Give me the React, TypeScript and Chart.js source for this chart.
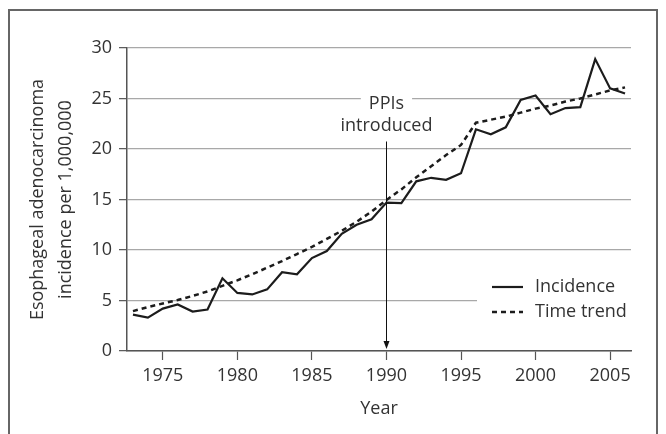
import { useEffect, useRef } from "react";
import { Chart, registerables } from "chart.js";

Chart.register(...registerables);

const YEARS = [1973, 1974, 1975, 1976, 1977, 1978, 1979, 1980, 1981, 1982, 1983, 1984, 1985, 1986, 1987, 1988, 1989, 1990, 1991, 1992, 1993, 1994, 1995, 1996, 1997, 1998, 1999, 2000, 2001, 2002, 2003, 2004, 2005, 2006];
const INCIDENCE = [3.6, 3.3, 4.2, 4.6, 3.9, 4.1, 7.2, 5.75, 5.6, 6.1, 7.8, 7.6, 9.2, 9.9, 11.6, 12.5, 13.05, 14.7, 14.65, 16.8, 17.15, 16.95, 17.6, 21.95, 21.45, 22.15, 24.85, 25.3, 23.45, 24.05, 24.15, 28.9, 26.0, 25.5];
const TIME_TREND = [3.95, 4.35, 4.7, 5.05, 5.45, 5.9, 6.45, 7.0, 7.6, 8.25, 8.9, 9.6, 10.3, 11.1, 11.9, 12.8, 13.8, 14.95, 16.0, 17.2, 18.3, 19.4, 20.4, 22.6, 22.9, 23.2, 23.6, 24.0, 24.3, 24.7, 25.0, 25.4, 25.8, 26.1];
const X_TICKS = [1975, 1980, 1985, 1990, 1995, 2000, 2005];
const Y_TICKS = [0, 5, 10, 15, 20, 25, 30];
const SERIES_LABELS = ["Incidence", "Time trend"];
const X_TITLE = "Year";
const Y_TITLE = ["Esophageal adenocarcinoma", "incidence per 1,000,000"];
const ANNOTATION_YEAR = 1990;
const ANNOTATION_LEVEL = 25;
const ANNOTATION_LINES = ["PPIs", "introduced"];

const FAMILY = "'Open Sans', 'Noto Sans', sans-serif";
const TEXT = "#333333";
const LINE = "#1c1c1c";

const framePlugin = {
  id: "frame",
  beforeDraw(chart: any) {
    const ctx = chart.ctx;
    ctx.save();
    ctx.fillStyle = "#ffffff";
    ctx.fillRect(0, 0, chart.width, chart.height);
    ctx.strokeStyle = "#666666";
    ctx.lineWidth = 2;
    ctx.strokeRect(9, 10, 648, 600);
    ctx.restore();
  },
};

const overlayPlugin = {
  id: "overlay",
  afterDraw(chart: any) {
    const { ctx, chartArea, scales } = chart;
    const x = scales.x.getPixelForValue(ANNOTATION_YEAR);
    const yRef = scales.y.getPixelForValue(ANNOTATION_LEVEL);
    ctx.save();
    ctx.font = `18px ${FAMILY}`;
    // annotation text
    const w = ctx.measureText(ANNOTATION_LINES[0]).width + 16;
    ctx.fillStyle = "#ffffff";
    ctx.fillRect(x - w / 2, yRef - 3, w, 6);
    ctx.fillStyle = TEXT;
    ctx.textAlign = "center";
    ctx.textBaseline = "middle";
    ctx.fillText(ANNOTATION_LINES[0], x, yRef + 5);
    ctx.fillText(ANNOTATION_LINES[1], x, yRef + 27);
    // arrow
    const ax = Math.round(x) + 0.5;
    const top = yRef + 43;
    const tip = chartArea.bottom - 2;
    ctx.strokeStyle = "#111111";
    ctx.lineWidth = 1;
    ctx.beginPath();
    ctx.moveTo(ax, top);
    ctx.lineTo(ax, tip - 4);
    ctx.stroke();
    ctx.fillStyle = "#111111";
    ctx.beginPath();
    ctx.moveTo(ax - 3, tip - 8);
    ctx.lineTo(ax + 3, tip - 8);
    ctx.lineTo(ax, tip);
    ctx.closePath();
    ctx.fill();

    // legend
    const right = chartArea.right;
    const bottom = chartArea.bottom;
    ctx.fillStyle = "#ffffff";
    ctx.fillRect(right - 154, bottom - 78, 154, 55);
    const rows = [bottom - 64, bottom - 39];
    chart.data.datasets.forEach((ds: any, i: number) => {
      const yy = rows[i];
      ctx.strokeStyle = ds.borderColor;
      ctx.lineWidth = ds.borderWidth;
      ctx.setLineDash(ds.borderDash || []);
      ctx.beginPath();
      ctx.moveTo(right - 139, yy);
      ctx.lineTo(right - 108, yy);
      ctx.stroke();
      ctx.setLineDash([]);
      ctx.fillStyle = TEXT;
      ctx.textAlign = "left";
      ctx.textBaseline = "middle";
      ctx.fillText(ds.label, right - 96, yy);
    });
    ctx.restore();
  },
};

export default function App() {
  const ref = useRef<HTMLCanvasElement | null>(null);

  useEffect(() => {
    if (!ref.current) return;
    const chart = new Chart(ref.current, {
      type: "line",
      data: {
        datasets: [
          {
            label: SERIES_LABELS[0],
            data: YEARS.map((yr, i) => ({ x: yr, y: INCIDENCE[i] })),
            borderColor: LINE,
            borderWidth: 2.2,
            pointRadius: 0,
            tension: 0,
            fill: false,
          },
          {
            label: SERIES_LABELS[1],
            data: YEARS.map((yr, i) => ({ x: yr, y: TIME_TREND[i] })),
            borderColor: LINE,
            borderWidth: 2.5,
            borderDash: [5, 4],
            pointRadius: 0,
            tension: 0,
            fill: false,
          },
        ],
      },
      options: {
        animation: false,
        responsive: false,
        devicePixelRatio: 1,
        layout: { padding: { left: 0, top: 48, right: 35, bottom: 0 } },
        plugins: { legend: { display: false }, tooltip: { enabled: false } },
        scales: {
          x: {
            type: "linear",
            min: 1972.6,
            max: 2006.4,
            afterBuildTicks: (s: any) => {
              s.ticks = X_TICKS.map((v) => ({ value: v }));
            },
            afterFit: (s: any) => {
              s.height = 83;
            },
            grid: { drawOnChartArea: false, drawTicks: true, tickLength: 9, tickColor: "#555555", tickWidth: 1.2 },
            border: { color: "#555555", width: 1.5 },
            ticks: {
              callback: (v: any) => String(v),
              color: TEXT,
              font: { family: FAMILY, size: 18, lineHeight: 1.2 },
              padding: 5,
              maxRotation: 0,
              autoSkip: false,
            },
            title: {
              display: true,
              text: X_TITLE,
              color: TEXT,
              font: { family: FAMILY, size: 18, lineHeight: 1.2 },
              padding: { top: 0, bottom: 14 },
            },
          },
          y: {
            type: "linear",
            min: 0,
            max: 30,
            afterBuildTicks: (s: any) => {
              s.ticks = Y_TICKS.map((v) => ({ value: v }));
            },
            afterFit: (s: any) => {
              s.width = 127;
            },
            grid: { color: "#a8a8a8", lineWidth: 1.3, drawTicks: true, tickLength: 8, tickColor: "#555555", tickWidth: 1.2 },
            border: { color: "#555555", width: 1.5 },
            ticks: {
              color: TEXT,
              font: { family: FAMILY, size: 18, lineHeight: 1.2 },
              padding: 7,
            },
            title: {
              display: true,
              text: Y_TITLE,
              color: TEXT,
              font: { family: FAMILY, size: 18, lineHeight: 1.55 },
              padding: { top: 24, bottom: 0 },
            },
          },
        },
      },
      plugins: [framePlugin, overlayPlugin],
    } as any);
    return () => chart.destroy();
  }, []);

  return (
    <div style={{ position: "absolute", left: 0, top: 0, width: 666, height: 434 }}>
      <canvas ref={ref} width={666} height={434} style={{ display: "block" }} />
    </div>
  );
}
